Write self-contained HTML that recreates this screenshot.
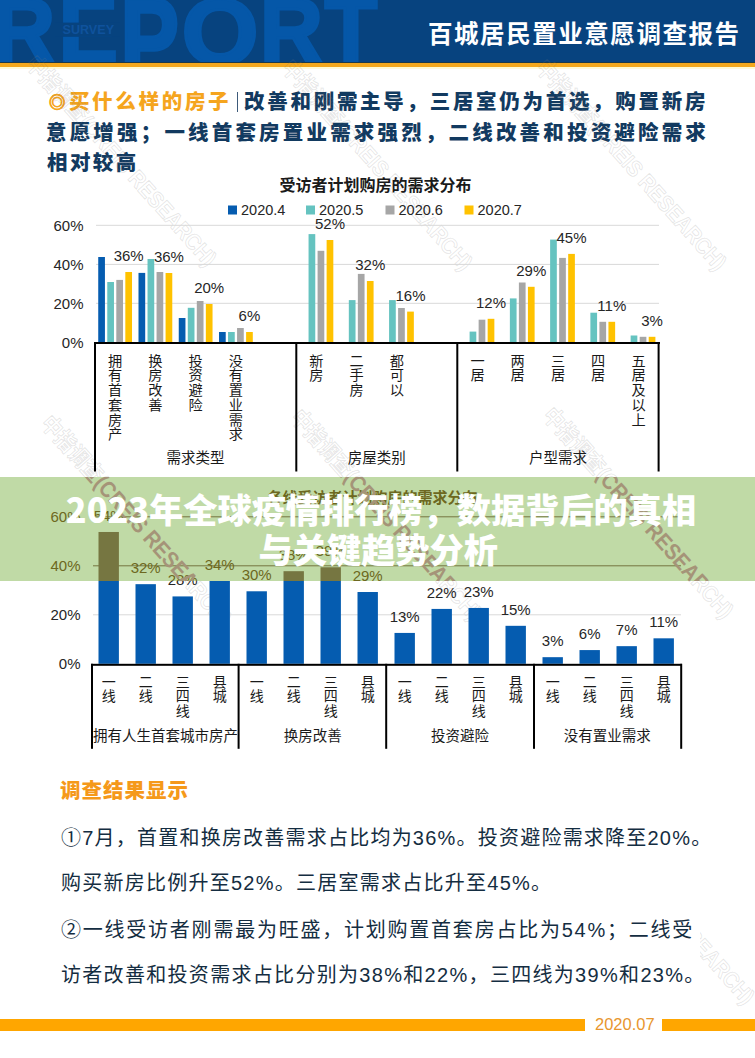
<!DOCTYPE html>
<html><head><meta charset="utf-8"><style>
*{margin:0;padding:0;box-sizing:border-box}
html,body{width:755px;height:1058px;overflow:hidden;background:#fff}
body{position:relative;font-family:"Liberation Sans","Noto Sans CJK SC",sans-serif}
.abs{position:absolute}
#hdr{left:0;top:0;width:755px;height:63px;background:#07437f;overflow:hidden}
#orn{left:0;top:63px;width:755px;height:3.8px;background:#f4a81c}
#orn2{left:0;top:66.8px;width:755px;height:2px;background:#fffbd6}
#hline{left:0;top:61.6px;width:755px;height:1.4px;background:#1c3a4a}
#htitle{left:428px;top:14.8px;font-size:24.5px;font-weight:bold;color:#fff;letter-spacing:1.55px;line-height:36px;white-space:nowrap;font-family:"Noto Sans CJK SC",sans-serif}
.sl{font-size:20.5px;font-weight:900;color:#123a60;line-height:30px;white-space:nowrap;font-family:"Noto Sans CJK SC",sans-serif}
.sl .o{color:#f5a51e}
.sl .c1{font-size:16.4px;-webkit-text-stroke:0.9px #f5a51e;letter-spacing:3.5px;vertical-align:1px;margin-left:1px}
.sl .vb{display:inline-block;width:1.3px;height:20px;background:#3d5a7a;margin:0 6.2px 0 5.3px;vertical-align:-3px}
svg text{font-family:"Liberation Sans","Noto Sans CJK SC",sans-serif}
#band{left:0;top:477px;width:755px;height:104px;background:rgba(160,200,130,0.62)}
#big{left:0;top:487.6px;width:755px;text-align:center;font-size:34.2px;font-weight:900;color:#fff;line-height:40.7px;font-family:"Noto Sans CJK SC",sans-serif}
#res{left:60px;top:773.6px;font-size:20.5px;font-weight:900;color:#f5991a;line-height:30px;letter-spacing:1px;font-family:"Noto Sans CJK SC",sans-serif}
.p{left:61px;font-size:20px;color:#142d41;white-space:nowrap;line-height:30px;font-family:"Liberation Sans","Noto Sans CJK SC",sans-serif}
#foot1{left:0;top:1019px;width:585px;height:11.5px;background:#ffa600}
#foot2{left:662px;top:1019px;width:93px;height:11.5px;background:#ffa600}
#fdate{left:595px;top:1013px;font-size:16.5px;color:#e8962e;font-family:"Liberation Sans",sans-serif;line-height:22px}
</style></head><body>
<div id="hdr" class="abs">
<svg width="755" height="63" style="position:absolute;left:0;top:0">
<g font-family="Liberation Sans,sans-serif" font-weight="bold" font-size="92.4" fill="#0557a8" stroke="#0557a8" stroke-width="2.9" stroke-linejoin="miter">
<text transform="translate(-7.21,61.70) scale(0.936,1)">R</text>
<text transform="translate(58.52,61.70) scale(0.965,1)">E</text>
<text transform="translate(120.28,77.59) scale(0.954,1.25)">P</text>
<text transform="translate(181.43,63.70) scale(1.074,1)">O</text>
<text transform="translate(259.71,61.70) scale(0.950,1)">R</text>
<text transform="translate(324.55,61.70) scale(0.936,1)">T</text>
</g>
<rect x="55" y="22.6" width="65" height="14.2" fill="#07437f"/>
<text x="62.5" y="34" font-family="Liberation Sans,sans-serif" font-weight="bold" font-size="12.6" fill="#0f529c" letter-spacing="0">SURVEY</text>
</svg>
</div>
<div id="hline" class="abs"></div><div id="orn" class="abs"></div><div id="orn2" class="abs"></div>
<div id="htitle" class="abs">百城居民置业意愿调查报告</div>
<div class="sl abs" style="top:84.7px;left:48px;letter-spacing:2.7px"><span class="o c1">◎</span><span class="o">买什么样的房子</span><span class="vb"></span>改善和刚需主导，三居室仍为首选，购置新房</div>
<div class="sl abs" style="top:115.5px;left:46px;letter-spacing:3.18px">意愿增强；一线首套房置业需求强烈，二线改善和投资避险需求</div>
<div class="sl abs" style="top:146.3px;left:47px;letter-spacing:2.4px">相对较高</div>
<svg class="abs" style="left:0;top:0" width="755" height="1058">
<text x="121" y="161" transform="rotate(48.2 121 161)" text-anchor="middle" dominant-baseline="central" textLength="273" lengthAdjust="spacingAndGlyphs" font-size="22.5" font-weight="bold" fill="none" stroke="#7a7a7a" stroke-opacity="0.2" stroke-width="0.9" font-family="Liberation Sans,Noto Sans CJK SC,sans-serif">中指调查(CREIS RESEARCH)</text>
<text x="377" y="165" transform="rotate(48.2 377 165)" text-anchor="middle" dominant-baseline="central" textLength="273" lengthAdjust="spacingAndGlyphs" font-size="22.5" font-weight="bold" fill="none" stroke="#7a7a7a" stroke-opacity="0.2" stroke-width="0.9" font-family="Liberation Sans,Noto Sans CJK SC,sans-serif">中指调查(CREIS RESEARCH)</text>
<text x="631" y="165" transform="rotate(48.2 631 165)" text-anchor="middle" dominant-baseline="central" textLength="273" lengthAdjust="spacingAndGlyphs" font-size="22.5" font-weight="bold" fill="none" stroke="#7a7a7a" stroke-opacity="0.2" stroke-width="0.9" font-family="Liberation Sans,Noto Sans CJK SC,sans-serif">中指调查(CREIS RESEARCH)</text>
<text x="136" y="521" transform="rotate(48.2 136 521)" text-anchor="middle" dominant-baseline="central" textLength="273" lengthAdjust="spacingAndGlyphs" font-size="22.5" font-weight="bold" fill="none" stroke="#7a7a7a" stroke-opacity="0.2" stroke-width="0.9" font-family="Liberation Sans,Noto Sans CJK SC,sans-serif">中指调查(CREIS RESEARCH)</text>
<text x="386" y="515" transform="rotate(48.2 386 515)" text-anchor="middle" dominant-baseline="central" textLength="273" lengthAdjust="spacingAndGlyphs" font-size="22.5" font-weight="bold" fill="none" stroke="#7a7a7a" stroke-opacity="0.2" stroke-width="0.9" font-family="Liberation Sans,Noto Sans CJK SC,sans-serif">中指调查(CREIS RESEARCH)</text>
<text x="638" y="513" transform="rotate(48.2 638 513)" text-anchor="middle" dominant-baseline="central" textLength="273" lengthAdjust="spacingAndGlyphs" font-size="22.5" font-weight="bold" fill="none" stroke="#7a7a7a" stroke-opacity="0.2" stroke-width="0.9" font-family="Liberation Sans,Noto Sans CJK SC,sans-serif">中指调查(CREIS RESEARCH)</text>
<text x="375.5" y="190.5" text-anchor="middle" font-size="16" font-weight="bold" fill="#1a1a1a">受访者计划购房的需求分布</text>
<rect x="228" y="205.5" width="9" height="9" fill="#055cb0"/>
<text x="241" y="215" font-size="14.5" fill="#262626">2020.4</text>
<rect x="306" y="205.5" width="9" height="9" fill="#65c3c0"/>
<text x="319" y="215" font-size="14.5" fill="#262626">2020.5</text>
<rect x="385.5" y="205.5" width="9" height="9" fill="#a6a6a6"/>
<text x="398.5" y="215" font-size="14.5" fill="#262626">2020.6</text>
<rect x="464.5" y="205.5" width="9" height="9" fill="#ffc200"/>
<text x="477.5" y="215" font-size="14.5" fill="#262626">2020.7</text>
<rect x="96" y="224.8" width="563" height="1" fill="#d9d9d9"/>
<rect x="96" y="263.9" width="563" height="1" fill="#d9d9d9"/>
<rect x="96" y="302.8" width="563" height="1" fill="#d9d9d9"/>
<text x="83.5" y="230.9" text-anchor="end" font-size="15" fill="#262626">60%</text>
<text x="83.5" y="270.0" text-anchor="end" font-size="15" fill="#262626">40%</text>
<text x="83.5" y="308.90000000000003" text-anchor="end" font-size="15" fill="#262626">20%</text>
<text x="83.5" y="348.1" text-anchor="end" font-size="15" fill="#262626">0%</text>
<rect x="98.23" y="257" width="6.7" height="85.30" fill="#055cb0"/>
<rect x="107.27" y="282" width="6.7" height="60.30" fill="#65c3c0"/>
<rect x="116.30" y="279.9" width="6.7" height="62.40" fill="#a6a6a6"/>
<rect x="125.32" y="272" width="6.7" height="70.30" fill="#ffc200"/>
<text x="128.67" y="261.0" text-anchor="middle" font-size="15" fill="#262626">36%</text>
<rect x="138.50" y="272.9" width="6.7" height="69.40" fill="#055cb0"/>
<rect x="147.53" y="259" width="6.7" height="83.30" fill="#65c3c0"/>
<rect x="156.55" y="272" width="6.7" height="70.30" fill="#a6a6a6"/>
<rect x="165.58" y="273" width="6.7" height="69.30" fill="#ffc200"/>
<text x="168.93" y="262.0" text-anchor="middle" font-size="15" fill="#262626">36%</text>
<rect x="178.75" y="318" width="6.7" height="24.30" fill="#055cb0"/>
<rect x="187.78" y="307.8" width="6.7" height="34.50" fill="#65c3c0"/>
<rect x="196.81" y="301" width="6.7" height="41.30" fill="#a6a6a6"/>
<rect x="205.84" y="304" width="6.7" height="38.30" fill="#ffc200"/>
<text x="209.19" y="293.0" text-anchor="middle" font-size="15" fill="#262626">20%</text>
<rect x="219.02" y="332" width="6.7" height="10.30" fill="#055cb0"/>
<rect x="228.05" y="332" width="6.7" height="10.30" fill="#65c3c0"/>
<rect x="237.07" y="328" width="6.7" height="14.30" fill="#a6a6a6"/>
<rect x="246.10" y="332" width="6.7" height="10.30" fill="#ffc200"/>
<text x="249.45" y="321.0" text-anchor="middle" font-size="15" fill="#262626">6%</text>
<rect x="308.56" y="234.1" width="6.7" height="108.20" fill="#65c3c0"/>
<rect x="317.59" y="250.8" width="6.7" height="91.50" fill="#a6a6a6"/>
<rect x="326.62" y="240" width="6.7" height="102.30" fill="#ffc200"/>
<text x="329.97" y="229.0" text-anchor="middle" font-size="15" fill="#262626">52%</text>
<rect x="348.82" y="300.1" width="6.7" height="42.20" fill="#65c3c0"/>
<rect x="357.85" y="273.9" width="6.7" height="68.40" fill="#a6a6a6"/>
<rect x="366.88" y="281" width="6.7" height="61.30" fill="#ffc200"/>
<text x="370.24" y="270.0" text-anchor="middle" font-size="15" fill="#262626">32%</text>
<rect x="389.08" y="300.1" width="6.7" height="42.20" fill="#65c3c0"/>
<rect x="398.11" y="308" width="6.7" height="34.30" fill="#a6a6a6"/>
<rect x="407.14" y="311.6" width="6.7" height="30.70" fill="#ffc200"/>
<text x="410.50" y="300.6" text-anchor="middle" font-size="15" fill="#262626">16%</text>
<rect x="469.60" y="331.6" width="6.7" height="10.70" fill="#65c3c0"/>
<rect x="478.63" y="319.7" width="6.7" height="22.60" fill="#a6a6a6"/>
<rect x="487.66" y="318.8" width="6.7" height="23.50" fill="#ffc200"/>
<text x="491.01" y="307.8" text-anchor="middle" font-size="15" fill="#262626">12%</text>
<rect x="509.87" y="298.4" width="6.7" height="43.90" fill="#65c3c0"/>
<rect x="518.89" y="282.5" width="6.7" height="59.80" fill="#a6a6a6"/>
<rect x="527.92" y="286.8" width="6.7" height="55.50" fill="#ffc200"/>
<text x="531.27" y="275.8" text-anchor="middle" font-size="15" fill="#262626">29%</text>
<rect x="550.12" y="239.6" width="6.7" height="102.70" fill="#65c3c0"/>
<rect x="559.15" y="257.9" width="6.7" height="84.40" fill="#a6a6a6"/>
<rect x="568.18" y="253.9" width="6.7" height="88.40" fill="#ffc200"/>
<text x="571.53" y="242.9" text-anchor="middle" font-size="15" fill="#262626">45%</text>
<rect x="590.38" y="312.7" width="6.7" height="29.60" fill="#65c3c0"/>
<rect x="599.41" y="321.8" width="6.7" height="20.50" fill="#a6a6a6"/>
<rect x="608.44" y="321.8" width="6.7" height="20.50" fill="#ffc200"/>
<text x="611.79" y="310.8" text-anchor="middle" font-size="15" fill="#262626">11%</text>
<rect x="630.64" y="335.5" width="6.7" height="6.80" fill="#65c3c0"/>
<rect x="639.67" y="336.8" width="6.7" height="5.50" fill="#a6a6a6"/>
<rect x="648.70" y="336.8" width="6.7" height="5.50" fill="#ffc200"/>
<text x="652.05" y="325.8" text-anchor="middle" font-size="15" fill="#262626">3%</text>
<rect x="94" y="342" width="566" height="2" fill="#000"/>
<rect x="94.0" y="342" width="2" height="129.5" fill="#000"/>
<rect x="295.3" y="342" width="2" height="129.5" fill="#000"/>
<rect x="456.3" y="342" width="2" height="129.5" fill="#000"/>
<rect x="657.6" y="342" width="2" height="129.5" fill="#000"/>
<text x="115.1" y="365.6" text-anchor="middle" font-size="14.2" fill="#1a1a1a">拥</text>
<text x="115.1" y="380.4" text-anchor="middle" font-size="14.2" fill="#1a1a1a">有</text>
<text x="115.1" y="395.1" text-anchor="middle" font-size="14.2" fill="#1a1a1a">首</text>
<text x="115.1" y="409.9" text-anchor="middle" font-size="14.2" fill="#1a1a1a">套</text>
<text x="115.1" y="424.6" text-anchor="middle" font-size="14.2" fill="#1a1a1a">房</text>
<text x="115.1" y="439.4" text-anchor="middle" font-size="14.2" fill="#1a1a1a">产</text>
<text x="155.4" y="365.6" text-anchor="middle" font-size="14.2" fill="#1a1a1a">换</text>
<text x="155.4" y="380.4" text-anchor="middle" font-size="14.2" fill="#1a1a1a">房</text>
<text x="155.4" y="395.1" text-anchor="middle" font-size="14.2" fill="#1a1a1a">改</text>
<text x="155.4" y="409.9" text-anchor="middle" font-size="14.2" fill="#1a1a1a">善</text>
<text x="195.6" y="365.6" text-anchor="middle" font-size="14.2" fill="#1a1a1a">投</text>
<text x="195.6" y="380.4" text-anchor="middle" font-size="14.2" fill="#1a1a1a">资</text>
<text x="195.6" y="395.1" text-anchor="middle" font-size="14.2" fill="#1a1a1a">避</text>
<text x="195.6" y="409.9" text-anchor="middle" font-size="14.2" fill="#1a1a1a">险</text>
<text x="235.9" y="365.6" text-anchor="middle" font-size="14.2" fill="#1a1a1a">没</text>
<text x="235.9" y="380.4" text-anchor="middle" font-size="14.2" fill="#1a1a1a">有</text>
<text x="235.9" y="395.1" text-anchor="middle" font-size="14.2" fill="#1a1a1a">置</text>
<text x="235.9" y="409.9" text-anchor="middle" font-size="14.2" fill="#1a1a1a">业</text>
<text x="235.9" y="424.6" text-anchor="middle" font-size="14.2" fill="#1a1a1a">需</text>
<text x="235.9" y="439.4" text-anchor="middle" font-size="14.2" fill="#1a1a1a">求</text>
<text x="316.4" y="365.6" text-anchor="middle" font-size="14.2" fill="#1a1a1a">新</text>
<text x="316.4" y="380.4" text-anchor="middle" font-size="14.2" fill="#1a1a1a">房</text>
<text x="356.7" y="365.6" text-anchor="middle" font-size="14.2" fill="#1a1a1a">二</text>
<text x="356.7" y="380.4" text-anchor="middle" font-size="14.2" fill="#1a1a1a">手</text>
<text x="356.7" y="395.1" text-anchor="middle" font-size="14.2" fill="#1a1a1a">房</text>
<text x="396.9" y="365.6" text-anchor="middle" font-size="14.2" fill="#1a1a1a">都</text>
<text x="396.9" y="380.4" text-anchor="middle" font-size="14.2" fill="#1a1a1a">可</text>
<text x="396.9" y="395.1" text-anchor="middle" font-size="14.2" fill="#1a1a1a">以</text>
<text x="477.5" y="365.6" text-anchor="middle" font-size="14.2" fill="#1a1a1a">一</text>
<text x="477.5" y="380.4" text-anchor="middle" font-size="14.2" fill="#1a1a1a">居</text>
<text x="517.7" y="365.6" text-anchor="middle" font-size="14.2" fill="#1a1a1a">两</text>
<text x="517.7" y="380.4" text-anchor="middle" font-size="14.2" fill="#1a1a1a">居</text>
<text x="558.0" y="365.6" text-anchor="middle" font-size="14.2" fill="#1a1a1a">三</text>
<text x="558.0" y="380.4" text-anchor="middle" font-size="14.2" fill="#1a1a1a">居</text>
<text x="598.2" y="365.6" text-anchor="middle" font-size="14.2" fill="#1a1a1a">四</text>
<text x="598.2" y="380.4" text-anchor="middle" font-size="14.2" fill="#1a1a1a">居</text>
<text x="638.5" y="365.6" text-anchor="middle" font-size="14.2" fill="#1a1a1a">五</text>
<text x="638.5" y="380.4" text-anchor="middle" font-size="14.2" fill="#1a1a1a">居</text>
<text x="638.5" y="395.1" text-anchor="middle" font-size="14.2" fill="#1a1a1a">及</text>
<text x="638.5" y="409.9" text-anchor="middle" font-size="14.2" fill="#1a1a1a">以</text>
<text x="638.5" y="424.6" text-anchor="middle" font-size="14.2" fill="#1a1a1a">上</text>
<text x="195.6" y="463" text-anchor="middle" font-size="14.5" fill="#1a1a1a">需求类型</text>
<text x="376.8" y="463" text-anchor="middle" font-size="14.5" fill="#1a1a1a">房屋类别</text>
<text x="558" y="463" text-anchor="middle" font-size="14.5" fill="#1a1a1a">户型需求</text>
<text x="372.5" y="503" text-anchor="middle" font-size="15" font-weight="bold" fill="#1a1a1a">各线受访者计划购房的需求分布</text>
<rect x="93" y="614.3" width="588" height="1" fill="#d9d9d9"/>
<rect x="93" y="565.3" width="588" height="1" fill="#d9d9d9"/>
<rect x="93" y="516.3" width="588" height="1" fill="#d9d9d9"/>
<text x="80.5" y="669.4" text-anchor="end" font-size="15" fill="#262626">0%</text>
<text x="80.5" y="620.4" text-anchor="end" font-size="15" fill="#262626">20%</text>
<text x="80.5" y="571.4" text-anchor="end" font-size="15" fill="#262626">40%</text>
<text x="80.5" y="522.4" text-anchor="end" font-size="15" fill="#262626">60%</text>
<rect x="98.50" y="531.99" width="20.4" height="131.81" fill="#055cb0"/>
<text x="108.70" y="521.0" text-anchor="middle" font-size="15" fill="#262626">54%</text>
<rect x="135.50" y="584.17" width="20.4" height="79.62" fill="#055cb0"/>
<text x="145.70" y="573.2" text-anchor="middle" font-size="15" fill="#262626">32%</text>
<rect x="172.50" y="596.42" width="20.4" height="67.38" fill="#055cb0"/>
<text x="182.70" y="585.4" text-anchor="middle" font-size="15" fill="#262626">28%</text>
<rect x="209.50" y="580.99" width="20.4" height="82.81" fill="#055cb0"/>
<text x="219.70" y="570.0" text-anchor="middle" font-size="15" fill="#262626">34%</text>
<rect x="246.50" y="591.28" width="20.4" height="72.52" fill="#055cb0"/>
<text x="256.70" y="580.3" text-anchor="middle" font-size="15" fill="#262626">30%</text>
<rect x="283.50" y="571.19" width="20.4" height="92.61" fill="#055cb0"/>
<text x="293.70" y="560.2" text-anchor="middle" font-size="15" fill="#262626">38%</text>
<rect x="320.50" y="567.27" width="20.4" height="96.53" fill="#055cb0"/>
<text x="330.70" y="556.3" text-anchor="middle" font-size="15" fill="#262626">39%</text>
<rect x="357.50" y="592.01" width="20.4" height="71.78" fill="#055cb0"/>
<text x="367.70" y="581.0" text-anchor="middle" font-size="15" fill="#262626">29%</text>
<rect x="394.50" y="632.93" width="20.4" height="30.87" fill="#055cb0"/>
<text x="404.70" y="621.9" text-anchor="middle" font-size="15" fill="#262626">13%</text>
<rect x="431.50" y="608.92" width="20.4" height="54.88" fill="#055cb0"/>
<text x="441.70" y="597.9" text-anchor="middle" font-size="15" fill="#262626">22%</text>
<rect x="468.50" y="607.94" width="20.4" height="55.86" fill="#055cb0"/>
<text x="478.70" y="596.9" text-anchor="middle" font-size="15" fill="#262626">23%</text>
<rect x="505.50" y="625.82" width="20.4" height="37.98" fill="#055cb0"/>
<text x="515.70" y="614.8" text-anchor="middle" font-size="15" fill="#262626">15%</text>
<rect x="542.50" y="657.18" width="20.4" height="6.62" fill="#055cb0"/>
<text x="552.70" y="646.2" text-anchor="middle" font-size="15" fill="#262626">3%</text>
<rect x="579.50" y="650.08" width="20.4" height="13.72" fill="#055cb0"/>
<text x="589.70" y="639.1" text-anchor="middle" font-size="15" fill="#262626">6%</text>
<rect x="616.50" y="646.16" width="20.4" height="17.64" fill="#055cb0"/>
<text x="626.70" y="635.2" text-anchor="middle" font-size="15" fill="#262626">7%</text>
<rect x="653.50" y="638.32" width="20.4" height="25.48" fill="#055cb0"/>
<text x="663.70" y="627.3" text-anchor="middle" font-size="15" fill="#262626">11%</text>
<rect x="91" y="663.8" width="591" height="2" fill="#000"/>
<rect x="91.0" y="663.8" width="2" height="85" fill="#000"/>
<rect x="237.6" y="663.8" width="2" height="85" fill="#000"/>
<rect x="385.2" y="663.8" width="2" height="85" fill="#000"/>
<rect x="533.0" y="663.8" width="2" height="85" fill="#000"/>
<rect x="680.2" y="663.8" width="2" height="85" fill="#000"/>
<text x="108.7" y="686.5" text-anchor="middle" font-size="14" fill="#1a1a1a">一</text>
<text x="108.7" y="701.0" text-anchor="middle" font-size="14" fill="#1a1a1a">线</text>
<text x="145.7" y="686.5" text-anchor="middle" font-size="14" fill="#1a1a1a">二</text>
<text x="145.7" y="701.0" text-anchor="middle" font-size="14" fill="#1a1a1a">线</text>
<text x="182.7" y="686.5" text-anchor="middle" font-size="14" fill="#1a1a1a">三</text>
<text x="182.7" y="701.0" text-anchor="middle" font-size="14" fill="#1a1a1a">四</text>
<text x="182.7" y="715.5" text-anchor="middle" font-size="14" fill="#1a1a1a">线</text>
<text x="219.7" y="686.5" text-anchor="middle" font-size="14" fill="#1a1a1a">县</text>
<text x="219.7" y="701.0" text-anchor="middle" font-size="14" fill="#1a1a1a">城</text>
<text x="256.7" y="686.5" text-anchor="middle" font-size="14" fill="#1a1a1a">一</text>
<text x="256.7" y="701.0" text-anchor="middle" font-size="14" fill="#1a1a1a">线</text>
<text x="293.7" y="686.5" text-anchor="middle" font-size="14" fill="#1a1a1a">二</text>
<text x="293.7" y="701.0" text-anchor="middle" font-size="14" fill="#1a1a1a">线</text>
<text x="330.7" y="686.5" text-anchor="middle" font-size="14" fill="#1a1a1a">三</text>
<text x="330.7" y="701.0" text-anchor="middle" font-size="14" fill="#1a1a1a">四</text>
<text x="330.7" y="715.5" text-anchor="middle" font-size="14" fill="#1a1a1a">线</text>
<text x="367.7" y="686.5" text-anchor="middle" font-size="14" fill="#1a1a1a">县</text>
<text x="367.7" y="701.0" text-anchor="middle" font-size="14" fill="#1a1a1a">城</text>
<text x="404.7" y="686.5" text-anchor="middle" font-size="14" fill="#1a1a1a">一</text>
<text x="404.7" y="701.0" text-anchor="middle" font-size="14" fill="#1a1a1a">线</text>
<text x="441.7" y="686.5" text-anchor="middle" font-size="14" fill="#1a1a1a">二</text>
<text x="441.7" y="701.0" text-anchor="middle" font-size="14" fill="#1a1a1a">线</text>
<text x="478.7" y="686.5" text-anchor="middle" font-size="14" fill="#1a1a1a">三</text>
<text x="478.7" y="701.0" text-anchor="middle" font-size="14" fill="#1a1a1a">四</text>
<text x="478.7" y="715.5" text-anchor="middle" font-size="14" fill="#1a1a1a">线</text>
<text x="515.7" y="686.5" text-anchor="middle" font-size="14" fill="#1a1a1a">县</text>
<text x="515.7" y="701.0" text-anchor="middle" font-size="14" fill="#1a1a1a">城</text>
<text x="552.7" y="686.5" text-anchor="middle" font-size="14" fill="#1a1a1a">一</text>
<text x="552.7" y="701.0" text-anchor="middle" font-size="14" fill="#1a1a1a">线</text>
<text x="589.7" y="686.5" text-anchor="middle" font-size="14" fill="#1a1a1a">二</text>
<text x="589.7" y="701.0" text-anchor="middle" font-size="14" fill="#1a1a1a">线</text>
<text x="626.7" y="686.5" text-anchor="middle" font-size="14" fill="#1a1a1a">三</text>
<text x="626.7" y="701.0" text-anchor="middle" font-size="14" fill="#1a1a1a">四</text>
<text x="626.7" y="715.5" text-anchor="middle" font-size="14" fill="#1a1a1a">线</text>
<text x="663.7" y="686.5" text-anchor="middle" font-size="14" fill="#1a1a1a">县</text>
<text x="663.7" y="701.0" text-anchor="middle" font-size="14" fill="#1a1a1a">城</text>
<text x="165.6" y="741" text-anchor="middle" font-size="14.5" fill="#1a1a1a">拥有人生首套城市房产</text>
<text x="312.8" y="741" text-anchor="middle" font-size="14.5" fill="#1a1a1a">换房改善</text>
<text x="460" y="741" text-anchor="middle" font-size="14.5" fill="#1a1a1a">投资避险</text>
<text x="607.2" y="741" text-anchor="middle" font-size="14.5" fill="#1a1a1a">没有置业需求</text>
<defs><clipPath id="br"><rect x="700" y="925" width="55" height="90"/></clipPath></defs>
<g clip-path="url(#br)"><text x="659" y="899" transform="rotate(48.2 659 899)" text-anchor="middle" dominant-baseline="central" textLength="273" lengthAdjust="spacingAndGlyphs" font-size="22.5" font-weight="bold" fill="none" stroke="#7a7a7a" stroke-opacity="0.2" stroke-width="0.9" font-family="Liberation Sans,Noto Sans CJK SC,sans-serif">中指调查(CREIS RESEARCH)</text></g>
<defs><clipPath id="bc"><rect x="0" y="477" width="755" height="104"/></clipPath></defs>
<rect x="0" y="477" width="755" height="104" fill="#c0daa6"/>
<g clip-path="url(#bc)">
<text x="372.5" y="503" text-anchor="middle" font-size="15" font-weight="bold" fill="#6d6820">各线受访者计划购房的需求分布</text>
<rect x="93" y="565.3" width="588" height="1" fill="#767641"/>
<rect x="93" y="516.3" width="588" height="1" fill="#767641"/>
<text x="80.5" y="571.4" text-anchor="end" font-size="15" fill="#6d6820">40%</text>
<text x="80.5" y="522.4" text-anchor="end" font-size="15" fill="#6d6820">60%</text>
<rect x="98.50" y="531.99" width="20.4" height="131.81" fill="#767641"/>
<text x="108.70" y="521.0" text-anchor="middle" font-size="15" fill="#6d6820">54%</text>
<text x="145.70" y="573.2" text-anchor="middle" font-size="15" fill="#6d6820">32%</text>
<text x="182.70" y="585.4" text-anchor="middle" font-size="15" fill="#6d6820">28%</text>
<rect x="209.50" y="580.99" width="20.4" height="82.81" fill="#767641"/>
<text x="219.70" y="570.0" text-anchor="middle" font-size="15" fill="#6d6820">34%</text>
<text x="256.70" y="580.3" text-anchor="middle" font-size="15" fill="#6d6820">30%</text>
<rect x="283.50" y="571.19" width="20.4" height="92.61" fill="#767641"/>
<text x="293.70" y="560.2" text-anchor="middle" font-size="15" fill="#6d6820">38%</text>
<rect x="320.50" y="567.27" width="20.4" height="96.53" fill="#767641"/>
<text x="330.70" y="556.3" text-anchor="middle" font-size="15" fill="#6d6820">39%</text>
<text x="367.70" y="581.0" text-anchor="middle" font-size="15" fill="#6d6820">29%</text>
<text x="441.70" y="597.9" text-anchor="middle" font-size="15" fill="#6d6820">22%</text>
<text x="478.70" y="596.9" text-anchor="middle" font-size="15" fill="#6d6820">23%</text>
<text x="121" y="161" transform="rotate(48.2 121 161)" text-anchor="middle" dominant-baseline="central" textLength="273" lengthAdjust="spacingAndGlyphs" font-size="22.5" font-weight="bold" fill="#a59478" font-family="Liberation Sans,Noto Sans CJK SC,sans-serif">中指调查(CREIS RESEARCH)</text>
<text x="377" y="165" transform="rotate(48.2 377 165)" text-anchor="middle" dominant-baseline="central" textLength="273" lengthAdjust="spacingAndGlyphs" font-size="22.5" font-weight="bold" fill="#a59478" font-family="Liberation Sans,Noto Sans CJK SC,sans-serif">中指调查(CREIS RESEARCH)</text>
<text x="631" y="165" transform="rotate(48.2 631 165)" text-anchor="middle" dominant-baseline="central" textLength="273" lengthAdjust="spacingAndGlyphs" font-size="22.5" font-weight="bold" fill="#a59478" font-family="Liberation Sans,Noto Sans CJK SC,sans-serif">中指调查(CREIS RESEARCH)</text>
<text x="136" y="521" transform="rotate(48.2 136 521)" text-anchor="middle" dominant-baseline="central" textLength="273" lengthAdjust="spacingAndGlyphs" font-size="22.5" font-weight="bold" fill="#a59478" font-family="Liberation Sans,Noto Sans CJK SC,sans-serif">中指调查(CREIS RESEARCH)</text>
<text x="386" y="515" transform="rotate(48.2 386 515)" text-anchor="middle" dominant-baseline="central" textLength="273" lengthAdjust="spacingAndGlyphs" font-size="22.5" font-weight="bold" fill="#a59478" font-family="Liberation Sans,Noto Sans CJK SC,sans-serif">中指调查(CREIS RESEARCH)</text>
<text x="638" y="513" transform="rotate(48.2 638 513)" text-anchor="middle" dominant-baseline="central" textLength="273" lengthAdjust="spacingAndGlyphs" font-size="22.5" font-weight="bold" fill="#a59478" font-family="Liberation Sans,Noto Sans CJK SC,sans-serif">中指调查(CREIS RESEARCH)</text>
</g>
</svg>
<div id="big" class="abs"><div style="margin-left:7px">2023年全球疫情排行榜，数据背后的真相</div><div style="margin-left:1.5px">与关键趋势分析</div></div>
<div id="res" class="abs">调查结果显示</div>
<div class="p abs" style="top:822.6px;letter-spacing:1.22px">①7月，首置和换房改善需求占比均为36%。投资避险需求降至20%。</div>
<div class="p abs" style="top:868px;letter-spacing:1.25px">购买新房比例升至52%。三居室需求占比升至45%。</div>
<div class="p abs" style="top:914.5px;letter-spacing:1.77px">②一线受访者刚需最为旺盛，计划购置首套房占比为54%；二线受</div>
<div class="p abs" style="top:960.2px;letter-spacing:1.31px">访者改善和投资需求占比分别为38%和22%，三四线为39%和23%。</div>
<div id="foot1" class="abs"></div><div id="foot2" class="abs"></div>
<div id="fdate" class="abs">2020.07</div>
</body></html>
